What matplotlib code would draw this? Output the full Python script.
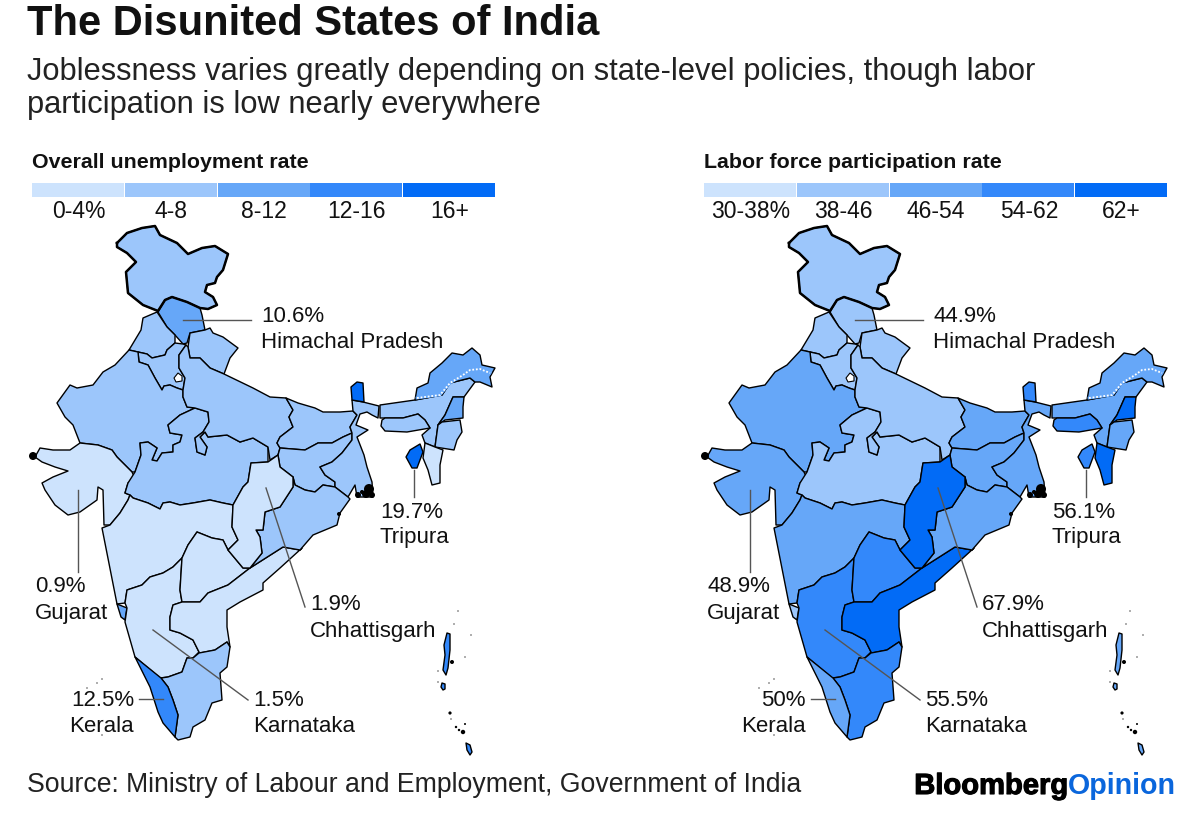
import numpy as np
import matplotlib
matplotlib.use('Agg')
from matplotlib import pyplot as plt
from matplotlib import patheffects
from matplotlib.patches import Polygon, Rectangle

plt.rcParams['font.family'] = ['Liberation Sans', 'DejaVu Sans']

W, H = 1200, 816

# state rates (only the labelled ones are exact)
states = ['jk', 'himachal', 'punjab', 'uttarakhand', 'haryana', 'rajasthan', 'gujarat', 'mp', 'up',
          'bihar', 'jharkhand', 'bengal', 'sikkim', 'assam', 'arunachal', 'nagaland', 'manipur',
          'meghalaya', 'tripura', 'mizoram', 'maharashtra', 'goa', 'karnataka', 'telangana', 'andhra',
          'odisha', 'chhattisgarh', 'tamilnadu', 'kerala', 'andaman', 'little_andaman', 'nicobar']
unemployment = [6, 10.6, 6, 7, 6, 5, 0.9, 4.5, 6,
                7, 7.5, 4.6, 19, 4.5, 9, 9, 6,
                6, 19.7, 2, 3, 9, 1.5, 3, 3.5,
                6, 1.9, 7, 12.5, 13, 13, 13]
participation = [44, 44.9, 44, 42, 43, 50, 48.9, 43, 40,
                 50, 50, 50, 56, 50, 50, 65, 50,
                 58, 56.1, 65, 50, 40, 55.5, 58, 65,
                 50, 67.9, 58, 50, 52, 52, 52]

unemp_edges = [4, 8, 12, 16]
part_edges = [38, 46, 54, 62]
unemp_labels = ['0-4%', '4-8', '8-12', '12-16', '16+']
part_labels = ['30-38%', '38-46', '46-54', '54-62', '62+']
colors = ['#cde3fd', '#9cc6fb', '#66a7f8', '#3388fa', '#026bf6']

# state outlines, traced in pixels of the left map
shapes = {
    'jk': [(117,243),(127,233),(142,228),(155,226),(160,235),(177,243),(188,254),(202,248),(215,246),(228,254),(223,270),(217,277),(215,283),(207,285),(205,292),(213,297),(217,305),(208,309),(200,308),(187,302),(172,297),(165,300),(158,311),(143,305),(128,293),(126,272),(136,262),(127,253),(117,247)],
    'himachal': [(158,312),(165,300),(172,297),(187,302),(200,308),(202,315),(205,330),(190,333),(187,343),(183,344),(175,335),(167,327)],
    'punjab': [(157,312),(143,318),(141,330),(129,350),(138,352),(147,354),(152,358),(165,355),(167,350),(175,343),(175,335),(167,327)],
    'uttarakhand': [(190,333),(205,330),(210,328),(213,333),(223,337),(238,348),(230,358),(224,374),(210,368),(200,358),(190,358),(188,347)],
    'haryana': [(138,352),(139,362),(148,365),(155,378),(162,390),(164,386),(170,385),(177,388),(183,390),(185,378),(179,368),(179,355),(186,345),(183,344),(175,343),(167,350),(165,355),(152,358),(147,354)],
    'rajasthan': [(129,350),(138,352),(139,362),(148,365),(155,378),(162,390),(164,386),(170,385),(177,388),(183,390),(183,397),(187,407),(195,408),(180,415),(168,425),(170,433),(182,435),(180,442),(173,445),(173,452),(162,453),(157,461),(152,460),(157,448),(148,442),(140,443),(141,455),(135,472),(132,472),(117,457),(112,450),(98,445),(80,443),(73,425),(65,417),(57,403),(70,385),(77,388),(93,385),(103,372),(115,365)],
    'gujarat': [(35,457),(40,448),(53,450),(70,450),(80,443),(98,445),(112,450),(117,457),(132,472),(135,478),(128,483),(125,493),(130,495),(128,500),(120,513),(110,525),(104,525),(103,490),(98,487),(97,500),(80,512),(68,515),(55,505),(45,490),(42,483),(53,477),(68,471),(55,467),(42,462)],
    'mp': [(135,472),(141,455),(140,443),(148,442),(157,448),(152,460),(157,461),(162,453),(173,452),(173,445),(180,442),(182,435),(170,433),(168,425),(180,415),(195,408),(208,412),(209,422),(203,432),(195,438),(197,452),(205,455),(207,447),(200,437),(205,432),(208,437),(227,435),(240,442),(253,438),(268,447),(268,462),(251,463),(248,482),(243,487),(233,505),(223,503),(210,500),(193,503),(180,505),(170,502),(163,503),(160,509),(148,503),(133,498),(130,495),(125,493),(128,483)],
    'up': [(186,345),(188,347),(190,358),(200,358),(210,368),(224,374),(253,388),(270,397),(286,398),(293,410),(289,417),(293,427),(280,437),(277,443),(280,448),(278,455),(270,460),(268,447),(253,438),(240,442),(227,435),(208,437),(205,432),(200,437),(207,447),(205,455),(197,452),(195,438),(203,432),(209,422),(208,412),(195,408),(187,407),(183,397),(183,390),(185,378),(179,368),(179,355)],
    'bihar': [(286,398),(298,403),(315,408),(323,412),(340,412),(353,411),(357,415),(350,427),(352,433),(343,437),(332,443),(318,443),(305,450),(280,448),(277,443),(280,437),(293,427),(289,417),(293,410)],
    'jharkhand': [(280,448),(305,450),(318,443),(332,443),(343,437),(352,433),(352,440),(342,453),(332,462),(320,467),(325,475),(335,482),(335,487),(323,485),(315,492),(305,490),(295,485),(293,477),(280,467),(278,455)],
    'bengal': [(352,400),(363,402),(379,406),(378,418),(372,415),(367,412),(360,414),(356,425),(368,430),(357,437),(364,455),(367,467),(372,482),(373,497),(357,497),(355,485),(348,497),(335,487),(335,482),(325,475),(320,467),(332,462),(342,453),(352,440),(352,433),(350,427),(357,415),(353,411)],
    'sikkim': [(352,400),(351,387),(357,382),(363,383),(364,402)],
    'assam': [(380,405),(415,400),(442,395),(450,383),(470,378),(475,382),(464,397),(453,397),(445,415),(438,425),(435,447),(425,443),(422,435),(430,428),(425,420),(418,414),(403,418),(385,418),(380,418)],
    'arunachal': [(415,400),(417,388),(428,383),(430,373),(442,363),(452,353),(463,355),(472,348),(480,355),(482,365),(495,368),(490,377),(492,387),(480,382),(475,382),(470,378),(450,383),(442,395)],
    'nagaland': [(464,397),(453,397),(445,415),(438,425),(445,420),(463,418),(463,407)],
    'manipur': [(442,422),(460,420),(462,432),(457,440),(454,450),(435,447),(438,425)],
    'meghalaya': [(382,420),(385,418),(403,418),(418,414),(425,420),(430,428),(407,432),(385,431),(381,426)],
    'tripura': [(420,444),(423,452),(417,468),(412,468),(406,457),(410,450)],
    'mizoram': [(425,443),(435,447),(443,450),(440,465),(440,483),(432,485),(428,470),(423,458)],
    'maharashtra': [(130,495),(133,498),(148,503),(160,509),(163,503),(170,502),(180,505),(193,503),(210,500),(223,503),(233,505),(232,527),(238,540),(228,550),(223,540),(212,538),(197,532),(188,545),(182,558),(173,567),(163,573),(150,577),(142,585),(127,590),(125,603),(117,604),(102,528),(110,525),(120,513),(128,500)],
    'goa': [(117,604),(127,608),(125,620),(121,617)],
    'karnataka': [(127,590),(142,585),(150,577),(163,573),(173,567),(182,558),(180,590),(182,602),(173,605),(170,617),(170,630),(180,633),(193,640),(199,652),(193,658),(187,658),(182,672),(168,677),(160,678),(135,657),(125,622),(127,608),(125,603)],
    'telangana': [(182,558),(188,545),(197,532),(212,538),(223,540),(228,550),(243,568),(250,568),(228,585),(208,593),(200,602),(182,602),(180,590)],
    'andhra': [(250,568),(283,547),(300,550),(302,548),(280,568),(263,583),(263,590),(240,602),(227,610),(227,627),(230,647),(227,642),(215,650),(200,653),(199,652),(193,640),(180,633),(170,630),(170,617),(173,605),(182,602),(200,602),(208,593),(228,585)],
    'odisha': [(293,477),(295,485),(305,490),(315,492),(323,485),(335,487),(348,497),(350,499),(340,513),(337,525),(313,535),(300,550),(283,547),(250,568),(262,553),(260,537),(256,530),(263,530),(265,512),(280,507),(293,487)],
    'chhattisgarh': [(251,463),(268,462),(278,455),(280,467),(293,477),(293,487),(280,507),(265,512),(263,530),(256,530),(260,537),(262,553),(250,568),(243,568),(228,550),(238,540),(232,527),(233,505),(243,487),(248,482)],
    'tamilnadu': [(193,658),(199,653),(215,650),(227,642),(230,647),(227,667),(220,673),(222,700),(212,703),(205,720),(193,727),(190,737),(178,740),(175,737),(178,715),(173,700),(168,687),(161,678),(168,677),(182,672),(187,658)],
    'kerala': [(135,657),(161,678),(168,687),(173,700),(178,715),(175,737),(163,723),(158,712),(150,687)],
    'andaman': [(447,633),(450,634),(450,650),(448,668),(446,675),(443,670),(445,655),(444,645)],
    'little_andaman': [(442,683),(445,684),(445,689),(443,690),(441,687)],
    'nicobar': [(466,743),(470,745),(472,752),(470,755),(467,750)],
}
delhi = [(174,378),(178,373),(182,376),(182,381),(176,382)]

# x, y, radius of the black coast details and far islands
blobs = [(33,456,4), (369,489,5), (366,494,4), (372,495,3), (358,495,3), (362,492,2), (339,514,2),
         (452,662,2), (450,713,1.6), (456,727,1.2), (459,730,1.2), (463,732,2.2), (465,724,1)]
specks = [(458,611), (454,624), (471,635), (465,657), (438,671), (438,682), (451,719), (102,679), (97,683), (87,688), (102,735)]
border_dots = [(417,398),(440,395),(450,383),(463,375),(470,370),(480,369),(490,373)]

# label text x, y in px of the left map
label_pos = {'Himachal Pradesh': (261,316), 'Tripura': (380,512), 'Gujarat': (35,587),
             'Chhattisgarh': (310,605), 'Karnataka': (253,700), 'Kerala': (134,700)}
leaders = {'Himachal Pradesh': [(183,320),(251,320)], 'Tripura': [(414,470),(414,497)],
           'Gujarat': [(78,490),(78,572)], 'Chhattisgarh': [(266,488),(305,607)],
           'Karnataka': [(153,630),(248,700)], 'Kerala': [(139,699),(163,699)]}


def draw_panel(x0, title, values, edges, bin_labels, texts):
    ax = fig.add_axes([x0 / W, 0, 528 / W, 1])
    ax.set_xlim(0, 528)
    ax.set_ylim(H, 0)
    ax.axis('off')

    for name, val in zip(states, values):
        fill = colors[np.digitize(val, edges)]
        ax.add_patch(Polygon(shapes[name], closed=True, facecolor=fill, edgecolor='black', linewidth=1.0, joinstyle='round'))
    # northern edge of the country is heavier
    jk = np.array(shapes['jk'] + shapes['jk'][:1])
    ax.plot(jk[:, 0], jk[:, 1], color='black', lw=1.8)
    ax.add_patch(Polygon(delhi, closed=True, facecolor='white', edgecolor='black', lw=0.8))
    for bx, by, r in blobs:
        ax.add_patch(plt.Circle((bx, by), r, color='black', lw=0))
    for bx, by in specks:
        ax.add_patch(plt.Circle((bx, by), 0.7, color='#333333', lw=0))

    dots = np.array(border_dots)
    arun = colors[np.digitize(values[states.index('arunachal')], edges)]
    ax.plot(dots[:, 0], dots[:, 1], color=arun, lw=2.0)
    ax.plot(dots[:, 0], dots[:, 1], color='white', lw=1.3, ls=(0, (1, 1)))

    ax.text(32, 162, title, fontsize=15.4, fontweight='bold', va='center', color='#111111')
    for i, lab in enumerate(bin_labels):
        ax.add_patch(Rectangle((32 + i * 92.8, 183), 92, 13.5, facecolor=colors[i], lw=0))
        ax.text(32 + (i + 0.5) * 92.8, 212, lab, fontsize=16.5, ha='center', va='center', color='#111111')

    for name, pct in texts.items():
        tx, ty = label_pos[name]
        ha = 'right' if name == 'Kerala' else 'left'
        ax.text(tx, ty, pct, fontsize=16, ha=ha, va='center', color='#111111')
        ax.text(tx, ty + 26, name, fontsize=16, ha=ha, va='center', color='#111111')
        line = np.array(leaders[name])
        ax.plot(line[:, 0], line[:, 1], color='#555555', lw=1.0)


fig = plt.figure(figsize=(W / 100, H / 100), dpi=100)

draw_panel(0, 'Overall unemployment rate', unemployment, unemp_edges, unemp_labels,
           {'Himachal Pradesh': '10.6%', 'Tripura': '19.7%', 'Gujarat': '0.9%',
            'Chhattisgarh': '1.9%', 'Karnataka': '1.5%', 'Kerala': '12.5%'})
draw_panel(672, 'Labor force participation rate', participation, part_edges, part_labels,
           {'Himachal Pradesh': '44.9%', 'Tripura': '56.1%', 'Gujarat': '48.9%',
            'Chhattisgarh': '67.9%', 'Karnataka': '55.5%', 'Kerala': '50%'})

fig.text(27 / W, 1 - 24 / H, 'The Disunited States of India', fontsize=30, fontweight='bold', va='center', color='#111111')
fig.text(27 / W, 1 - 72 / H, 'Joblessness varies greatly depending on state-level policies, though labor', fontsize=22.2, va='center', color='#222222')
fig.text(27 / W, 1 - 105 / H, 'participation is low nearly everywhere', fontsize=22.2, va='center', color='#222222')
fig.text(27 / W, 1 - 785 / H, 'Source: Ministry of Labour and Employment, Government of India', fontsize=19.2, va='center', color='#222222')
logo = fig.text(1068 / W, 1 - 786 / H, 'Bloomberg', fontsize=21, fontweight='bold', ha='right', va='center', color='black')
logo.set_path_effects([patheffects.withStroke(linewidth=0.8, foreground='black')])
fig.text(1068 / W, 1 - 786 / H, 'Opinion', fontsize=20.6, fontweight='bold', ha='left', va='center', color='#0a66dc')

fig.savefig('out.png', dpi=100)
